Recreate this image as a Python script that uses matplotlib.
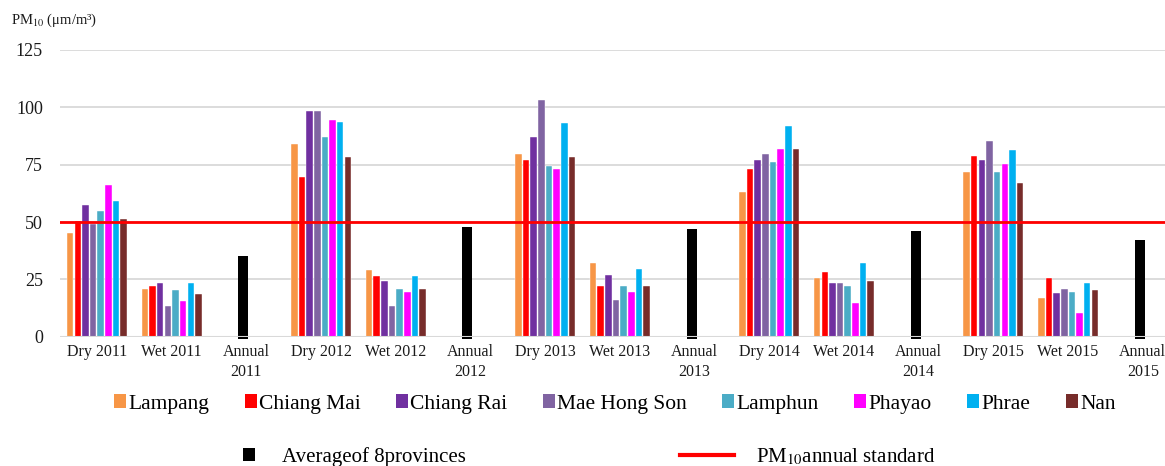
import matplotlib
matplotlib.use("Agg")
import matplotlib.pyplot as plt
from matplotlib.patches import Patch
from matplotlib.lines import Line2D

# ---------------- data ----------------
categories = ["Dry 2011", "Wet 2011", "Annual\n2011",
              "Dry 2012", "Wet 2012", "Annual\n2012",
              "Dry 2013", "Wet 2013", "Annual\n2013",
              "Dry 2014", "Wet 2014", "Annual\n2014",
              "Dry 2015", "Wet 2015", "Annual\n2015"]
provinces = ["Lampang", "Chiang Mai", "Chiang Rai", "Mae Hong Son",
             "Lamphun", "Phayao", "Phrae", "Nan"]
# values for Dry/Wet seasons 2011..2015 (10 values each)
lampang      = [45.0, 21.0, 84.0, 29.0, 79.5, 32.0, 63.0, 25.5, 72.0, 17.0]
chiang_mai   = [50.5, 22.0, 69.5, 26.5, 77.0, 22.0, 73.0, 28.0, 79.0, 25.5]
chiang_rai   = [57.5, 23.5, 98.5, 24.5, 87.0, 27.0, 77.0, 23.5, 77.0, 19.0]
mae_hong_son = [49.0, 13.5, 98.5, 13.5, 103.0, 16.0, 79.5, 23.5, 85.5, 21.0]
lamphun      = [55.0, 20.5, 87.0, 21.0, 74.5, 22.0, 76.0, 22.0, 72.0, 19.5]
phayao       = [66.0, 15.5, 94.5, 19.5, 73.0, 19.5, 82.0, 14.5, 75.5, 10.5]
phrae        = [59.0, 23.5, 93.5, 26.5, 93.0, 29.5, 92.0, 32.0, 81.5, 23.5]
nan          = [51.5, 18.5, 78.5, 21.0, 78.5, 22.0, 82.0, 24.5, 67.0, 20.5]
average_8    = [35.0, 48.0, 47.0, 46.0, 42.0]   # annual averages 2011..2015
standard_pm10 = 50
y_ticks = [0, 25, 50, 75, 100, 125]

series = [lampang, chiang_mai, chiang_rai, mae_hong_son,
          lamphun, phayao, phrae, nan]
colors = ["#F79646", "#FF0000", "#7030A0", "#8064A2",
          "#4BACC6", "#FF00FF", "#00B0F0", "#772C2A"]

# ---------------- style ----------------
plt.rcParams['font.family'] = ['Liberation Serif', 'DejaVu Serif']
plt.rcParams['mathtext.fontset'] = 'stix'

W, H = 1165, 466
fig = plt.figure(figsize=(W / 100, H / 100), dpi=100)
ax = fig.add_axes([59.6 / W, 129.3 / H, 1120.5 / W, 286.7 / H])

season_pos = [i for i in range(len(categories)) if i % 3 != 2]
annual_pos = [i for i in range(len(categories)) if i % 3 == 2]

slot = 0.1025
bw = 0.088
n = len(series)
for k, (vals, col) in enumerate(zip(series, colors)):
    xs = [p + (k - (n - 1) / 2) * slot for p in season_pos]
    ax.bar(xs, vals, width=bw, color=col, edgecolor='white',
           linewidth=0.3, zorder=2)

ax.bar([p - 0.04 for p in annual_pos], [v + 1 for v in average_8],
       bottom=-1, width=0.134, color='black', zorder=2, clip_on=False)

for y in y_ticks[1:]:
    ax.axhline(y, color='#d9d9d9', lw=1.3, zorder=0)
ax.axhline(0, color='#d9d9d9', lw=1.5, zorder=3)
ax.axhline(standard_pm10, color='#ff0000', lw=2.0, zorder=4)

ax.set_xlim(-0.5, len(categories) - 0.5)
ax.set_ylim(0, 125)
ax.set_yticks(y_ticks)
ax.set_yticklabels([str(v) for v in y_ticks], fontsize=13, color='#1a1a1a')
ax.set_xticks(range(len(categories)))
ax.set_xticklabels(categories, fontsize=11.5, color='#1a1a1a', linespacing=1.3)
ax.tick_params(axis='y', length=0, pad=12)
ax.tick_params(axis='x', length=0, pad=5.5)
for s in ax.spines.values():
    s.set_visible(False)

fig.text(11 / W, 1 - 20 / H, "PM$_{10}$ (μm/m³)", fontsize=10.5,
         va='center', ha='left', color='#1a1a1a')

# legend row 1
handles = [Patch(facecolor=c) for c in colors]
fig.legend(handles, provinces, loc='center left',
           bbox_to_anchor=(114 / W, 62 / H), ncol=8, frameon=False,
           fontsize=15.5, handlelength=0.56, handleheight=0.62,
           handletextpad=0.1, columnspacing=1.65, borderpad=0,
           borderaxespad=0)

# legend row 2
fig.legend([Patch(facecolor='black')], ["Averageof 8provinces"],
           loc='center left', bbox_to_anchor=(243 / W, 9 / H),
           frameon=False, fontsize=15, handlelength=0.56, handleheight=0.62,
           handletextpad=1.3, borderpad=0, borderaxespad=0)
fig.legend([Line2D([], [], color='#ff0000', lw=3)], ["PM$_{10}$annual standard"],
           loc='center left', bbox_to_anchor=(680 / W, 9 / H),
           frameon=False, fontsize=15, handlelength=2.6,
           handletextpad=1.05, borderpad=0, borderaxespad=0)

fig.savefig("out.png", dpi=100)
